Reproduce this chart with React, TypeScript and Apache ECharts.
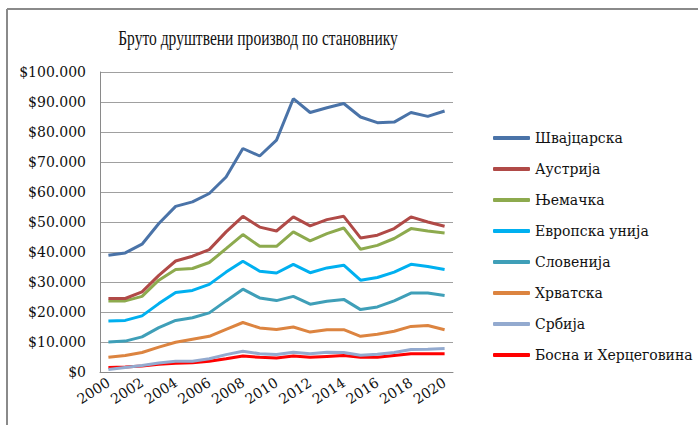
import React, { useEffect, useRef } from "react";
import * as echarts from "echarts";

const years = ["2000","2001","2002","2003","2004","2005","2006","2007","2008","2009","2010","2011","2012","2013","2014","2015","2016","2017","2018","2019","2020"];
const seriesNames = ["Швајцарска","Аустрија","Њемачка","Европска унија","Словенија","Хрватска","Србија","Босна и Херцеговина"];
const colors = ["#4A73A8","#B04A47","#8DAA4E","#00B0F0","#3F9FB8","#DC8440","#93AACF","#FF0000"];
const titleText = "Бруто друштвени производ по становнику";

const switzerland = [38900,39700,42600,49500,55200,56700,59500,65000,74500,72000,77300,91100,86500,88100,89500,85000,83100,83300,86500,85200,87000];
const austria = [24500,24500,26700,32200,37000,38600,40800,46700,51900,48300,47000,51700,48700,50800,51900,44700,45600,47800,51700,50000,48600];
const germany = [23700,23700,25200,30600,34200,34500,36500,41100,45800,41900,41900,46700,43700,46100,48000,40900,42200,44500,47800,47000,46300];
const eu = [17000,17200,18700,22800,26500,27200,29200,33300,36900,33600,33000,35900,33100,34700,35600,30600,31500,33300,35900,35200,34200];
const slovenia = [10000,10300,11700,14800,17200,18100,19700,23700,27600,24700,23800,25200,22600,23600,24200,20800,21700,23700,26300,26300,25500];
const croatia = [4900,5500,6500,8300,9900,10900,11900,14200,16500,14700,14200,15000,13300,14100,14100,11900,12600,13600,15200,15500,14100];
const serbia = [800,1500,2200,3000,3600,3600,4400,5800,6900,6100,5800,6600,6100,6600,6500,5600,5900,6500,7500,7600,7800];
const bih = [1500,1700,2000,2600,2900,3100,3600,4400,5300,4900,4700,5300,4900,5200,5500,4900,4900,5500,6100,6100,6100];

const allValues = [switzerland, austria, germany, eu, slovenia, croatia, serbia, bih];

const TITLE_FONT = "Liberation Serif";
const LABEL_FONT = "DejaVu Serif";

export default function App() {
  const ref = useRef<HTMLDivElement>(null);
  useEffect(() => {
    if (!ref.current) return;
    const chart = echarts.init(ref.current, null, { renderer: "svg" });
    chart.setOption({
      animation: false,
      backgroundColor: "#ffffff",
      graphic: [
        {
          type: "line",
          shape: { x1: 7, y1: 9, x2: 698, y2: 9 },
          style: { stroke: "#8a8a8a", lineWidth: 2 },
          silent: true,
        },
        {
          type: "line",
          shape: { x1: 7, y1: 9, x2: 7, y2: 425 },
          style: { stroke: "#8a8a8a", lineWidth: 2 },
          silent: true,
        },
        {
          type: "text",
          x: 258,
          y: 38,
          scaleX: 0.74,
          style: {
            text: titleText,
            fontFamily: TITLE_FONT,
            fontSize: 21,
            fill: "#111",
            textAlign: "center",
            textVerticalAlign: "middle",
          },
          silent: true,
        },
      ],
      legend: {
        orient: "vertical",
        left: 488,
        top: 125,
        itemWidth: 37,
        itemHeight: 4,
        itemGap: 15,
        icon: "roundRect",
        textStyle: { fontFamily: LABEL_FONT, fontSize: 14, color: "#111", lineHeight: 16 },
        data: seriesNames,
      },
      grid: { left: 100, right: 245, top: 72, bottom: 53, containLabel: false },
      xAxis: {
        type: "category",
        data: years,
        boundaryGap: true,
        axisLine: { lineStyle: { color: "#8a8a8a" } },
        axisTick: { show: false },
        axisLabel: {
          interval: 1,
          rotate: 33,
          fontFamily: LABEL_FONT,
          fontSize: 14,
          color: "#111",
          margin: 9,
        },
      },
      yAxis: {
        type: "value",
        min: 0,
        max: 100000,
        interval: 10000,
        axisLine: { show: true, lineStyle: { color: "#8a8a8a" } },
        axisTick: { show: false },
        splitLine: { lineStyle: { color: "#a0a0a0", width: 1 } },
        axisLabel: {
          fontFamily: LABEL_FONT,
          fontSize: 14,
          color: "#111",
          margin: 14,
          formatter: (v: number) => "$" + v.toLocaleString("de-DE"),
        },
      },
      series: seriesNames.map((name, i) => ({
        name,
        type: "line",
        data: allValues[i],
        showSymbol: false,
        symbol: "none",
        color: colors[i],
        lineStyle: { width: 3, color: colors[i] },
        z: 10 - i,
      })),
    });
    return () => chart.dispose();
  }, []);
  return <div ref={ref} style={{ position: "fixed", left: 0, top: 0, width: 698, height: 425 }} />;
}
